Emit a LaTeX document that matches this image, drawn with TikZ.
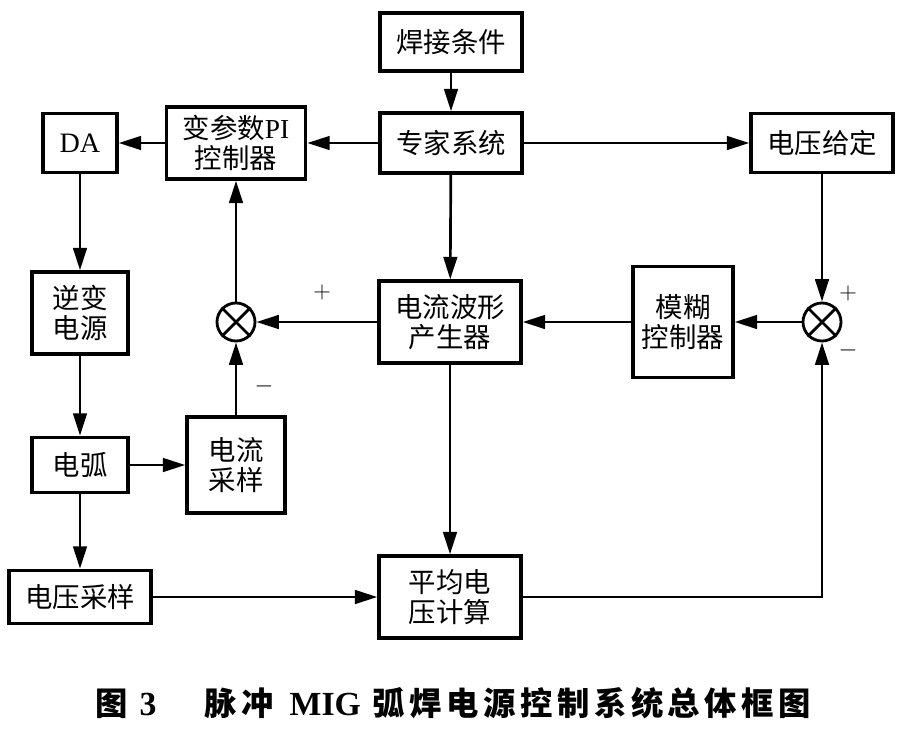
\documentclass[tikz,border=0pt]{standalone}
\usepackage{fontspec}
\setmainfont{Liberation Serif}
\newfontfamily\cjk{Noto Sans CJK SC}
\newfontfamily\cjkcap[LetterSpace=14]{Noto Sans CJK SC}
\usetikzlibrary{arrows.meta, positioning}
\tikzstyle{block} = [rectangle, draw=black, line width=2.4pt, font=\cjk\fontsize{19.5}{21.5}\selectfont, align=center, inner sep=2pt]
\tikzstyle{sum} = [circle, draw=black, line width=2pt, minimum size=0.95cm, inner sep=0pt]
\tikzstyle{line} = [draw, line width=1.9pt, -{Triangle[length=0.56cm,width=0.34cm]}]
\tikzstyle{sign} = [font=\fontsize{19}{19}\selectfont, inner sep=0pt]

\begin{document}
\begin{tikzpicture}[x=0.025cm, y=-0.025cm]
		\useasboundingbox (0,0) rectangle (906,731);
		\node (cond) [block, minimum width=3.55cm, minimum height=1.45cm] at (451,42) {焊接条件};
		\node (expert) [block, minimum width=3.55cm, minimum height=1.5cm] at (451,143) {专家系统};
		\node (pi) [block, minimum width=3.48cm, minimum height=1.8cm] at (236,143) {变参数{\rmfamily PI}\\控制器};
		\node (da) [block, minimum width=1.85cm, minimum height=1.48cm, font=\fontsize{20}{22}\selectfont] at (80,143) {DA};
		\node (ugiven) [block, minimum width=3.55cm, minimum height=1.48cm] at (822,143) {电压给定};
		\node (inverter) [block, minimum width=2.4cm, minimum height=2.05cm] at (80,313) {逆变\\电源};
		\node (sumi) [sum] at (236,322) {};
		\node (wave) [block, minimum width=3.55cm, minimum height=2.05cm] at (450,322) {电流波形\\产生器};
		\node (fuzzy) [block, minimum width=2.5cm, minimum height=2.78cm] at (683,322) {模糊\\控制器};
		\node (sumu) [sum] at (822,322) {};
		\node (arc) [block, minimum width=2.4cm, minimum height=1.38cm] at (80,465) {电弧};
		\node (isample) [block, minimum width=2.45cm, minimum height=2.4cm] at (236,465) {电流\\采样};
		\node (usample) [block, minimum width=3.55cm, minimum height=1.33cm] at (80,597) {电压采样};
		\node (avg) [block, minimum width=3.55cm, minimum height=2.05cm] at (450,597) {平均电\\压计算};

		% summing points
		\draw [line width=2pt] (sumi.north west) -- (sumi.south east) (sumi.north east) -- (sumi.south west);
		\draw [line width=2pt] (sumu.north west) -- (sumu.south east) (sumu.north east) -- (sumu.south west);
		\node (pi-plus) [sign] at (322,292) {$+$};
		\node (pi-minus) [sign] at (264,386) {$-$};
		\node (fz-plus) [sign] at (848,293) {$+$};
		\node (fz-minus) [sign] at (848,350) {$-$};

		% Draw edges
		\path [line] (cond) -- (expert);
		\path [line] (expert) -- (pi);
		\path [line] (pi) -- (da);
		\path [line] (expert) -- (ugiven);
		\path [line] (da) -- (inverter);
		\path [line] (inverter) -- (arc);
		\path [line] (arc) -- (isample);
		\path [line] (arc) -- (usample);
		\path [line] (isample) -- (sumi);
		\path [line] (sumi) -- (pi);
		\path [line] (expert) -- (wave);
		\path [line] (wave) -- (sumi);
		\path [line] (wave) -- (avg);
		\path [line] (usample) -- (avg);
		\path [line] (avg.east) -| (sumu.south);
		\path [line] (ugiven) -- (sumu);
		\path [line] (sumu) -- (fuzzy);
		\path [line] (fuzzy) -- (wave);

		\node (caption) [anchor=west, font=\bfseries\fontsize{23}{26}\selectfont, inner sep=0pt] at (95,703) {{\cjkcap 图}\hspace{0.3cm}{\fontsize{24}{26}\selectfont 3}\hspace{1.2cm}{\cjkcap 脉冲}\hspace{0.4cm}{\fontsize{24}{26}\selectfont MIG}\hspace{0.3cm}{\cjkcap 弧焊电源控制系统总体框图}};
\end{tikzpicture}
\end{document}
